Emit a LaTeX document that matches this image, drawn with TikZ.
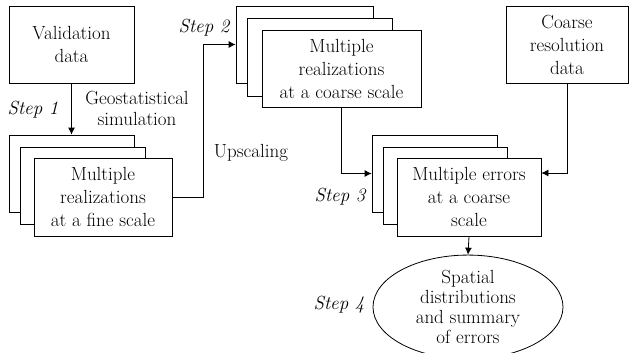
\documentclass[tikz,border=0pt]{standalone}
\usetikzlibrary{arrows,arrows.meta,shapes,positioning}

\begin{document}
\begin{tikzpicture}[x=1pt,y=-1pt,>={Latex[length=7pt,width=7pt]},line width=0.8pt]
                    \tikzstyle{every node}+=[inner sep=0pt,font=\fontsize{19}{23}\selectfont]
                    \tikzstyle{box}=[draw,fill=white,align=center]
                    \tikzstyle{steplabel}=[font=\fontsize{19}{23}\selectfont\itshape]
                    \useasboundingbox (0,0) rectangle (629,353);
                    \node [box,minimum width=125,minimum height=77] (valid) at (71.5,44.5) {Validation\\data};
                    \node [box,minimum width=125,minimum height=77] (fineB) at (71.5,173.5) {};
                    \node [box,minimum width=125,minimum height=77] (fineM) at (82.5,185.5) {};
                    \node [box,minimum width=138,minimum height=78] (fineF) at (103,197) {Multiple\\realizations\\at a fine scale};
                    \node [box,minimum width=137,minimum height=77] (coarseB) at (304.5,44.5) {};
                    \node [box,minimum width=145,minimum height=78] (coarseM) at (319.5,57) {};
                    \node [box,minimum width=159,minimum height=77] (coarseF) at (341.5,68.5) {Multiple\\realizations\\at a coarse scale};
                    \node [box,minimum width=122,minimum height=77] (cdata) at (567,44.5) {Coarse\\resolution\\data};
                    \node [box,minimum width=125,minimum height=77] (errB) at (434.5,173.5) {};
                    \node [box,minimum width=124,minimum height=77] (errM) at (445,185.5) {};
                    \node [box,minimum width=144,minimum height=78] (errF) at (469,197) {Multiple errors\\at a coarse\\scale};
                    \node [draw,ellipse,align=center,minimum width=190,minimum height=90,font=\fontsize{19}{20}\selectfont] (summary) at (468,307) {Spatial\\distributions\\and summary\\of errors};
                    \node [steplabel] (step1) at (33,110) {Step 1};
                    \node [steplabel] (step2) at (204,28) {Step 2};
                    \node [steplabel] (step3) at (340,197) {Step 3};
                    \node [steplabel] (step4) at (339,305) {Step 4};
                    \node [align=center,font=\fontsize{19}{21}\selectfont] (geo) at (137,108) {Geostatistical\\simulation};
                    \node (upsc) at (251,153) {Upscaling};
                    \draw [->] (valid.south) -- (fineB.north);
                    \draw [->] (fineF.east) -| ([xshift=-32pt]coarseB.west) -- (coarseB.west);
                    \draw [->] (coarseF.south) |- (errB.west);
                    \draw [->] (cdata.south) |- ([yshift=24pt]errF.east);
                    \draw [->] (errF.south) -- (summary.north);
\end{tikzpicture}
\end{document}
